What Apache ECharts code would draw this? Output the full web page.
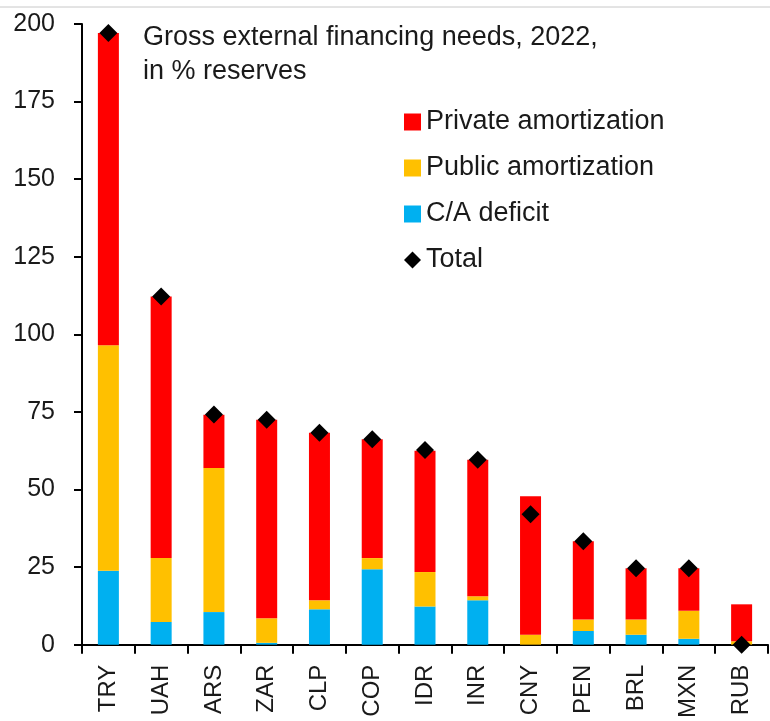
<!DOCTYPE html>
<html>
<head>
<meta charset="utf-8">
<script src="https://cdn.jsdelivr.net/npm/echarts@6/dist/echarts.min.js"></script>
<style>html,body{margin:0;padding:0;background:#fff;}#c{width:770px;height:721px;}</style>
</head>
<body>
<div id="c"></div>
<script>
const categories = ['TRY','UAH','ARS','ZAR','CLP','COP','IDR','INR','CNY','PEN','BRL','MXN','RUB'];
const caDeficit = [23.8, 7.3, 10.5, 0.6, 11.4, 24.3, 12.3, 14.3, 0, 4.4, 3.2, 1.9, 0];
const publicAmort = [72.7, 20.6, 46.4, 7.9, 2.9, 3.6, 11.1, 1.3, 3.2, 3.7, 4.9, 9.0, 1.1];
const privateAmort = [100.6, 84.3, 17.2, 64.0, 54.0, 38.3, 39.1, 44.0, 44.6, 25.2, 16.5, 13.7, 11.9];
const total = [197.1, 112.2, 74.2, 72.5, 68.3, 66.2, 62.7, 59.6, 42.0, 33.3, 24.6, 24.6, 0];
const yTicks = { min: 0, max: 200, interval: 25 };

const FONT = 'Liberation Sans';
const TXT = '#1a1a1a';
const chart = echarts.init(document.getElementById('c'), null, { renderer: 'canvas' });
chart.setOption({
  animation: false,
  backgroundColor: '#ffffff',
  textStyle: { fontFamily: FONT },
  title: {
    text: 'Gross external financing needs, 2022,\nin % reserves',
    left: 143, top: 21, padding: 0,
    textStyle: { fontFamily: FONT, fontSize: 27, fontWeight: 'normal', color: TXT, lineHeight: 34 }
  },
  legend: {
    orient: 'vertical',
    left: 404, top: 108, padding: 0,
    itemWidth: 17, itemHeight: 17,
    itemGap: 18,
    data: [
      { name: 'Private amortization', icon: 'rect' },
      { name: 'Public amortization', icon: 'rect' },
      { name: 'C/A deficit', icon: 'rect' },
      { name: 'Total', icon: 'diamond', itemStyle: { color: '#000', opacity: 1 } }
    ],
    textStyle: { fontFamily: FONT, fontSize: 27, color: TXT, lineHeight: 28 }
  },
  grid: { left: 82, right: 2, top: 24, bottom: 76, containLabel: false },
  xAxis: {
    type: 'category',
    data: categories,
    axisLine: { lineStyle: { color: '#000', width: 2 } },
    axisTick: { show: true, length: 9, lineStyle: { color: '#000', width: 2 } },
    axisLabel: { rotate: 90, margin: 20, fontFamily: FONT, fontSize: 24, color: TXT, interval: 0 }
  },
  yAxis: {
    type: 'value',
    min: yTicks.min, max: yTicks.max, interval: yTicks.interval,
    axisLine: { show: true, lineStyle: { color: '#000', width: 2 } },
    axisTick: { show: true, length: 8, lineStyle: { color: '#000', width: 2 } },
    splitLine: { show: false },
    axisLabel: { margin: 27, fontFamily: FONT, fontSize: 25, color: TXT }
  },
  series: [
    { name: 'C/A deficit', type: 'bar', stack: 'g', barWidth: 21, data: caDeficit, itemStyle: { color: '#00B0F0' } },
    { name: 'Public amortization', type: 'bar', stack: 'g', barWidth: 21, data: publicAmort, itemStyle: { color: '#FFC000' } },
    { name: 'Private amortization', type: 'bar', stack: 'g', barWidth: 21, data: privateAmort, itemStyle: { color: '#FF0000' } },
    { name: 'Total', type: 'scatter', symbol: 'diamond', symbolSize: 18, data: total, itemStyle: { color: '#000', opacity: 1 }, z: 10 }
  ],
  graphic: [
    { type: 'line', shape: { x1: 0, y1: 7, x2: 770, y2: 7 }, style: { stroke: '#c8c8c8', lineWidth: 1 }, silent: true }
  ]
});
</script>
</body>
</html>
